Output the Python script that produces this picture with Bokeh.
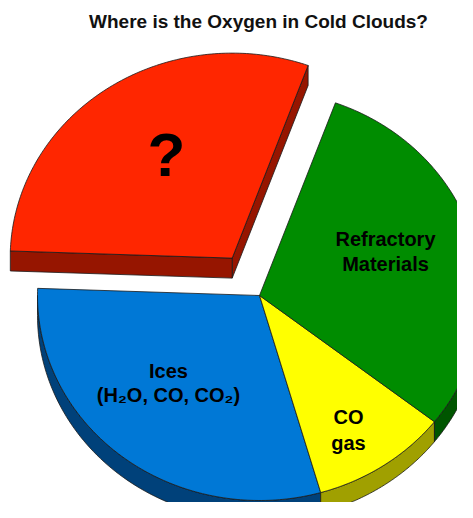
import numpy as np
from bokeh.plotting import figure
from bokeh.models import Range1d, ColumnDataSource
from bokeh.core.properties import value
from bokeh.embed import file_html
from bokeh.resources import INLINE

# ---------------- data ----------------
title_text = "Where is the Oxygen in Cold Clouds?"
categories = ["?", "Ices", "CO gas", "Refractory Materials"]
shares = [30, 30, 10, 30]
explode = [0.22, 0.0, 0.0, 0.0]
top_colors = ["#FF2600", "#0078D6", "#FFFF00", "#008C00"]
side_colors = ["#961500", "#00417A", "#A0A000", "#005500"]

label_lines = ["?", "Ices", "(H\u2082O, CO, CO\u2082)", "CO", "gas", "Refractory", "Materials"]
label_x = [166, 168, 168, 348, 348, 385, 385]
label_y = [154, 370, 394, 416, 442, 238, 263]
label_size = ["62px", "20px", "20px", "20px", "20px", "20px", "20px"]

# ---------------- geometry ----------------
CX, CY, RX, RY, H = 259.0, 295.0, 222.0, 205.0, 20.0
START = 70.0
FONT = "Liberation Sans"

p = figure(width=457, height=502, x_range=Range1d(0, 457), y_range=Range1d(502, 0),
           output_backend="svg", toolbar_location=None, min_border=0)
p.axis.visible = False
p.grid.visible = False
p.outline_line_color = None
p.background_fill_color = "white"
p.border_fill_color = "white"


def rim(cx, cy, t_deg):
    t = np.radians(t_deg)
    return cx + RX * np.cos(t), cy - RY * np.sin(t)


total = float(sum(shares))
side_xs, side_ys, side_cols = [], [], []
top_xs, top_ys, top_cols = [], [], []

a = START
for share, ex, tc, sc in zip(shares, explode, top_colors, side_colors):
    span = 360.0 * share / total
    a1, a2 = a, a + span
    mid = np.radians((a1 + a2) / 2)
    cx = CX + ex * RX * np.cos(mid)
    cy = CY - ex * RY * np.sin(mid)

    # top face
    ts = np.linspace(a1, a2, 120)
    xs, ys = rim(cx, cy, ts)
    top_xs.append([cx] + list(xs))
    top_ys.append([cy] + list(ys))
    top_cols.append(tc)

    # front rim band (visible where parametric angle in 180..360)
    for k in (-360, 0, 360):
        lo = max(a1, 180 + k)
        hi = min(a2, 360 + k)
        if hi > lo:
            tb = np.linspace(lo, hi, 80)
            bx, by = rim(cx, cy, tb)
            side_xs.append(list(bx) + list(bx[::-1]))
            side_ys.append(list(by) + list((by + H)[::-1]))
            side_cols.append(sc)

    # cut faces of exploded slices
    if ex > 0:
        for ang, nrm in ((a1, a1 - 90), (a2, a2 + 90)):
            if np.sin(np.radians(nrm)) < 0:
                rx_, ry_ = rim(cx, cy, ang)
                side_xs.append([cx, rx_, rx_, cx])
                side_ys.append([cy, ry_, ry_ + H, cy + H])
                side_cols.append(sc)
    a = a2

p.patches(xs=side_xs, ys=side_ys, fill_color=side_cols, line_color="#1a1a1a", line_width=0.8)
p.patches(xs=top_xs, ys=top_ys, fill_color=top_cols, line_color="#1a1a1a", line_width=0.8)

src = ColumnDataSource(dict(x=label_x, y=label_y, t=label_lines, s=label_size))
p.text(x="x", y="y", text="t", text_font_size="s", source=src,
       text_font=value(FONT), text_font_style="bold", text_color="black",
       text_align="center", text_baseline="middle")

p.text(x=[258], y=[21], text=[title_text], text_font=value(FONT), text_font_style="bold",
       text_font_size="19px", text_color="#111111", text_align="center", text_baseline="middle")

open("out.html", "w").write(file_html(p, INLINE))
